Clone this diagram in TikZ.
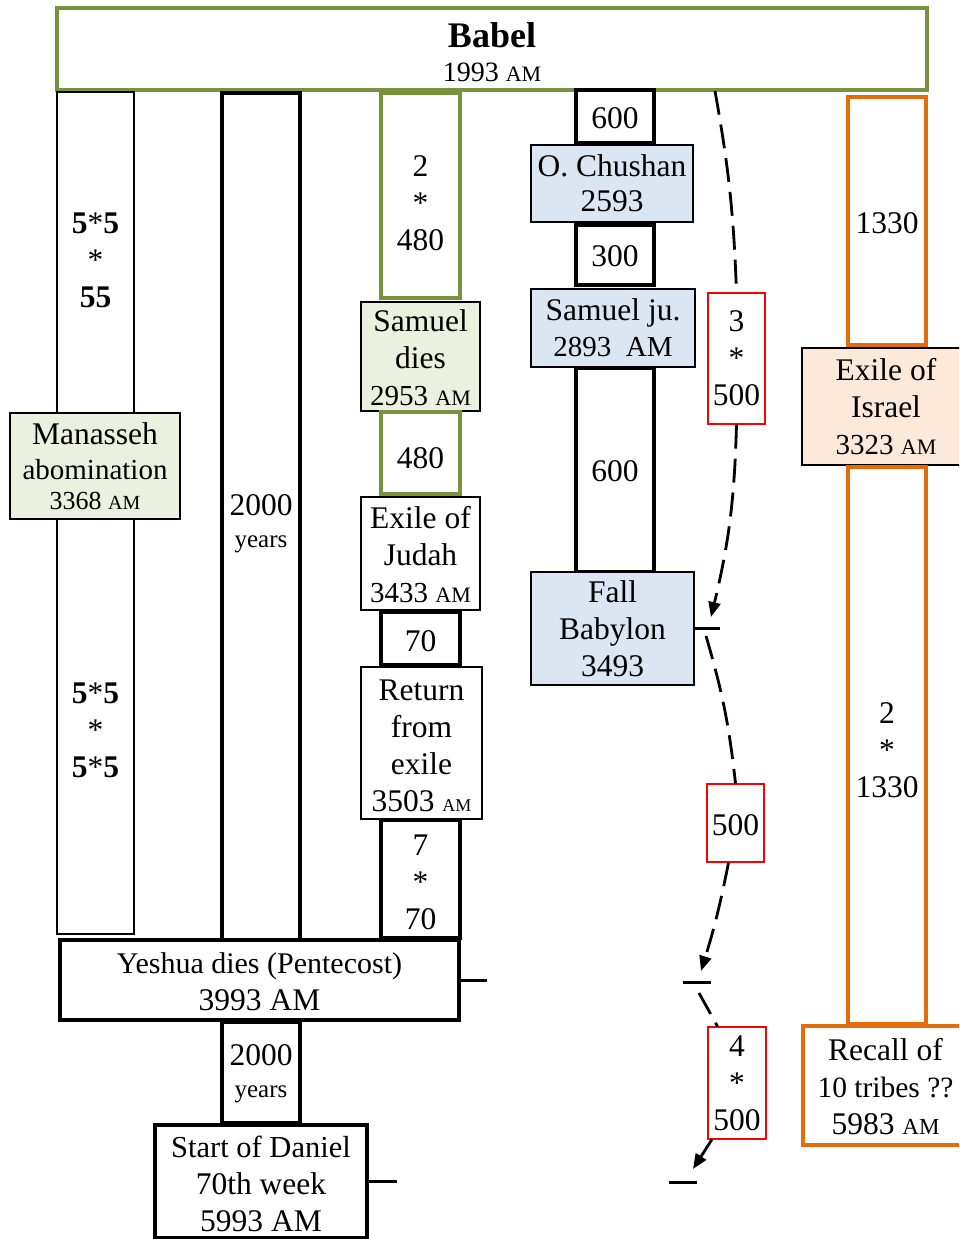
\documentclass[tikz,border=0pt]{standalone}
\usepackage{fontspec}
\setmainfont{Liberation Serif}
\usetikzlibrary{arrows.meta}
\definecolor{ogreen}{RGB}{119,147,60}
\definecolor{oorange}{RGB}{228,108,10}
\definecolor{lgreen}{RGB}{235,241,222}
\definecolor{lblue}{RGB}{220,230,242}
\definecolor{lorange}{RGB}{253,233,217}
\newcommand\fm{\fontsize{31.5}{37}\selectfont}
\newcommand\fd{\fontsize{29}{37}\selectfont}
\newcommand\sam{{\fontsize{22}{22}\selectfont AM}}
% strut that lowers the text of a box by half of its argument
\newcommand\st[1]{\rule{0pt}{\dimexpr\fontcharht\font`2+#1\relax}}
\newcommand\bx[6]{\node[#6,minimum width={#4-#2},minimum height={#5-#3}] (#1) at ({(#2+#4)/2},{(#3+#5)/2})}
\begin{document}
\begin{tikzpicture}[x=1pt,y=-1pt,
 bbase/.style={rectangle,inner sep=1pt,align=center,font=\fm,text=black},
 tbox/.style={bbase,draw=black,line width=1.5pt,fill=white},
 kbox/.style={bbase,draw=black,line width=4.5pt,fill=white},
 gbox/.style={bbase,draw=ogreen,line width=4.5pt,fill=white},
 obox/.style={bbase,draw=oorange,line width=4.5pt,fill=white},
 rbox/.style={bbase,draw=red,line width=1.2pt,fill=white},
 dashline/.style={line width=2.8pt,dash pattern=on 24pt off 10pt},
 arr/.style={-{Triangle[length=15pt,width=12pt]}},
 tickline/.style={line width=3pt}]
\useasboundingbox (0,0) rectangle (959,1239);
\clip (0,0) rectangle (959,1239);
% top
\bx{babel}{57}{8}{927}{90}{gbox}{{\bfseries\fontsize{36}{36}\selectfont\st{7pt}Babel}\\[-3pt]{\fontsize{28}{34}\selectfont 1993 \sam}};
% column 1
\bx{colA}{57}{92}{134}{426}{tbox,font=\fm\bfseries}{\st{2pt}5{\mdseries *}5\\{\mdseries *}\\55};
\bx{colB}{57}{512}{134}{934}{tbox,font=\fm\bfseries}{\st{14pt}5{\mdseries *}5\\{\mdseries *}\\5{\mdseries *}5};
\bx{manasseh}{10}{413}{180}{519}{tbox,fill=lgreen}{Manasseh\\[-2pt]{\fontsize{29}{30}\selectfont abomination}\\[-7pt]{\fontsize{26}{30}\selectfont 3368 {\fontsize{20}{20}\selectfont AM}}};
% column 2
\bx{yrsA}{222}{93}{300}{940}{kbox}{\st{15pt}2000\\[-5pt]{\fontsize{25}{30}\selectfont years}};
% column 3
\bx{gA}{381}{93}{460}{298}{gbox}{\st{16pt}2\\*\\480};
\bx{samdies}{361}{302}{480}{411}{tbox,fill=lgreen}{\st{3pt}Samuel\\dies\\{\fd 2953 \sam}};
\bx{gB}{381}{412}{460}{494}{gbox}{\st{10pt}480};
\bx{judah}{361}{497}{480}{610}{tbox}{\st{4pt}Exile of\\Judah\\{\fd 3433 \sam}};
\bx{seventy}{381}{612}{460}{665}{kbox}{\st{6pt}70};
\bx{ret}{361}{667}{482}{819}{tbox}{\st{5pt}Return\\from\\exile\\3503 {\fontsize{18}{18}\selectfont AM}};
\bx{sevsev}{381}{820}{460}{938}{kbox}{\st{6pt}7\\*\\70};
\bx{yeshua}{60}{940}{459}{1020}{kbox}{\fontsize{30}{35}\selectfont\st{5pt}Yeshua dies (Pentecost)\\3993 AM};
\bx{yrsB}{222}{1022}{300}{1123}{kbox}{\st{3pt}2000\\[-5pt]{\fontsize{25}{30}\selectfont years}};
\bx{daniel}{155}{1125}{367}{1238}{kbox}{\fontsize{30.5}{37}\selectfont\st{6pt}Start of Daniel\\70th week\\5993 AM};
% column 4
\bx{sixA}{576}{90}{654}{143}{kbox}{\st{4pt}600};
\bx{chushan}{531}{145}{693}{222}{tbox,fill=lblue}{\st{1pt}O. Chushan\\[-2pt]2593};
\bx{threeh}{576}{225}{654}{285}{kbox}{\st{2pt}300};
\bx{samju}{531}{289}{695}{367}{tbox,fill=lblue}{\st{1pt}Samuel ju.\\[-1pt]{\fd 2893~~AM}};
\bx{sixB}{576}{368}{654}{572}{kbox}{\st{2pt}600};
\bx{fall}{531}{572}{694}{685}{tbox,fill=lblue}{\st{2pt}Fall\\Babylon\\3493};
% red labels
\bx{rA}{708}{293}{765}{424}{rbox}{3\\*\\500};
\bx{rB}{707}{784}{764}{862}{rbox}{\st{4pt}500};
\bx{rC}{708}{1027}{766}{1139}{rbox}{\st{1pt}4\\*\\500};
% column 5
\bx{oA}{848}{97}{926}{345}{obox}{\st{4pt}1330};
\bx{israel}{802}{348}{970}{465}{tbox,fill=lorange}{Exile of\\Israel\\{\fd 3323 \sam}};
\bx{oB}{848}{467}{926}{1024}{obox}{\st{10pt}2\\*\\1330};
\bx{recall}{803}{1026}{968}{1145}{obox}{\st{3pt}Recall of\\{\fontsize{29.5}{37}\selectfont 10 tribes ??}\\5983 {\fontsize{23}{23}\selectfont AM}};
% ticks
\coordinate (tA) at (720,628.5);
\draw[tickline] (fall.east) -- (tA);
\coordinate (tB) at (487,980);
\draw[tickline] (yeshua.east) -- (tB);
\coordinate (tC1) at (683,982);
\coordinate (tC2) at (711,982);
\draw[tickline] (tC1) -- (tC2);
\coordinate (tD) at (397,1181.5);
\draw[tickline] (daniel.east) -- (tD);
\coordinate (tE1) at (669,1182);
\coordinate (tE2) at (697,1182);
\draw[tickline] (tE1) -- (tE2);
% dashed arrows
\coordinate (a0) at (715,91);
\coordinate (a1) at (711,617);
\coordinate (a2) at (706,636);
\coordinate (a3) at (701,971);
\coordinate (a4) at (699,993);
\coordinate (a5) at (693,1169);
\draw[dashline] (a0) to[bend left=4] (rA.north);
\draw[dashline,arr] (rA.south) to[bend left=6] (a1);
\draw[dashline] (a2) to[bend left=5] (rB.north);
\draw[dashline,arr] (rB.-100) to[bend left=3] (a3);
\draw[dashline] (a4) -- (rC.109);
\draw[dashline,arr] (rC.-114) -- (a5);
\end{tikzpicture}
\end{document}
